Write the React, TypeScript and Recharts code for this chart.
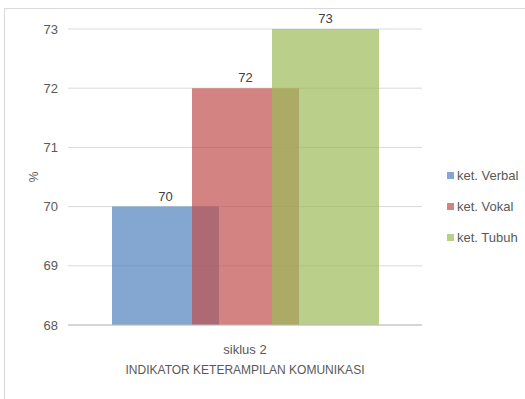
import { BarChart, Bar, XAxis, YAxis, CartesianGrid, Legend, LabelList } from 'recharts';

const categories = ['siklus 2'];
const verbal = [70];
const vokal = [72];
const tubuh = [73];
const yTicks = [68, 69, 70, 71, 72, 73];

const series = [
    { key: 'verbal', name: 'ket. Verbal', color: '#4F81BD' },
    { key: 'vokal', name: 'ket. Vokal', color: '#C0504D' },
    { key: 'tubuh', name: 'ket. Tubuh', color: '#9BBB59' },
];

const data = categories.map((c, i) => ({
    cat: c,
    verbal: verbal[i],
    vokal: vokal[i],
    tubuh: tubuh[i],
}));

const FONT = '"Liberation Sans Narrow", "Liberation Sans", Arial, sans-serif';
const TEXT = '#595959';

function LegendBox() {
    return (
        <div style={{ fontFamily: FONT, fontSize: 13, color: TEXT, paddingLeft: 25, whiteSpace: 'nowrap' }}>
            {series.map((s) => (
                <div key={s.key} style={{ display: 'flex', alignItems: 'center', height: 31 }}>
                    <span
                        style={{
                            display: 'inline-block',
                            width: 7,
                            height: 7,
                            background: s.color,
                            opacity: 0.7,
                            marginRight: 3,
                            flexShrink: 0,
                        }}
                    />
                    {s.name}
                </div>
            ))}
        </div>
    );
}

export default function App() {
    return (
        <div style={{ position: 'absolute', left: 0, top: 0, width: 525, height: 399, background: '#fff', overflow: 'hidden' }}>
            <div
                style={{
                    position: 'absolute',
                    left: 4,
                    top: 8,
                    width: 530,
                    height: 400,
                    border: '1px solid #d9d9d9',
                    boxSizing: 'border-box',
                }}
            />
            <BarChart
                width={525}
                height={399}
                data={data}
                margin={{ top: 29, right: 13, left: 0, bottom: 12 }}
                barSize={107}
                barGap={-27}
                style={{ position: 'absolute', left: 0, top: 0 }}
            >
                <CartesianGrid vertical={false} stroke="#d9d9d9" />
                <XAxis
                    dataKey="cat"
                    height={62}
                    tickLine={false}
                    axisLine={{ stroke: '#bfbfbf' }}
                    tickMargin={14}
                    tick={{ fill: TEXT, fontSize: 13, fontFamily: FONT }}
                    label={{
                        value: 'INDIKATOR KETERAMPILAN KOMUNIKASI',
                        position: 'insideBottom',
                        offset: 13,
                        fill: TEXT,
                        fontSize: 12,
                        fontFamily: FONT,
                    }}
                />
                <YAxis
                    width={68}
                    domain={[68, 73]}
                    ticks={yTicks}
                    interval={0}
                    axisLine={false}
                    tickLine={false}
                    tickMargin={4}
                    tick={{ fill: TEXT, fontSize: 13, fontFamily: FONT }}
                    label={{
                        value: '%',
                        angle: -90,
                        position: 'insideLeft',
                        offset: 34,
                        fill: TEXT,
                        fontSize: 12,
                        fontFamily: FONT,
                        style: { textAnchor: 'middle' },
                    }}
                />
                <Legend
                    layout="vertical"
                    align="right"
                    verticalAlign="top"
                    width={90}
                    wrapperStyle={{ top: 160 }}
                    content={() => <LegendBox />}
                />
                {series.map((s) => (
                    <Bar
                        key={s.key}
                        dataKey={s.key}
                        name={s.name}
                        fill={s.color}
                        fillOpacity={0.7}
                        isAnimationActive={false}
                    >
                        <LabelList
                            dataKey={s.key}
                            position="top"
                            offset={6}
                            fill="#404040"
                            fontSize={13}
                            fontFamily={FONT}
                        />
                    </Bar>
                ))}
            </BarChart>
        </div>
    );
}
